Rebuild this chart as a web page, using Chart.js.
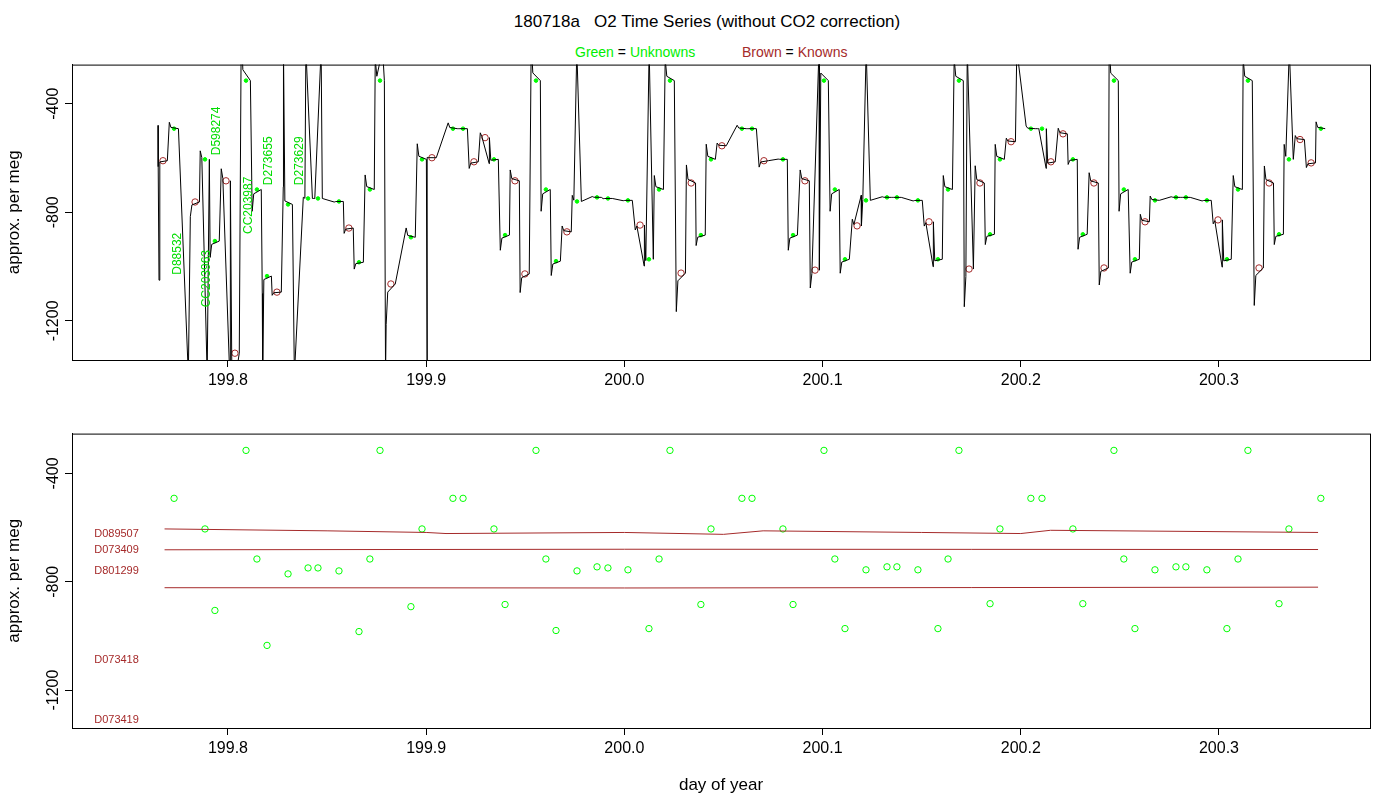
<!DOCTYPE html>
<html><head><meta charset="utf-8">
<script src="https://cdn.jsdelivr.net/npm/chart.js@4"></script>
<style>
body{margin:0;width:1400px;height:800px;background:#fff;font-family:"Liberation Sans",Arial,sans-serif;position:relative;overflow:hidden}
.box{position:absolute;left:0;width:1400px}
#t{position:absolute;top:12px;left:0;width:1414px;text-align:center;font-size:17px}
.lg{position:absolute;top:44px;font-size:14px}
</style></head><body>
<div id="t">180718a &nbsp; O2 Time Series (without CO2 correction)</div>
<div class="lg" style="left:575px"><span style="color:#00ee00">Green</span> = <span style="color:#00ee00">Unknowns</span></div>
<div class="lg" style="left:742px"><span style="color:#a52a2a">Brown</span> = <span style="color:#a52a2a">Knowns</span></div>
<div class="box" style="top:53px;height:347px"><canvas id="c1"></canvas></div>
<div class="box" style="top:422px;height:378px"><canvas id="c2"></canvas></div>
<script>
const xTicks=[199.8,199.9,200.0,200.1,200.2,200.3];
const yTicks=[-400,-800,-1200];
const unkDay=[199.7728,199.7884,199.7934,199.8091,199.8146,199.8197,199.8303,199.8404,199.8454,199.8560,199.8661,199.8716,199.8767,199.8923,199.8979,199.9135,199.9186,199.9342,199.9398,199.9554,199.9604,199.9655,199.9761,199.9862,199.9917,200.0018,200.0124,200.0175,200.0230,200.0386,200.0437,200.0593,200.0644,200.0800,200.0851,200.1007,200.1062,200.1113,200.1219,200.1325,200.1375,200.1481,200.1582,200.1633,200.1688,200.1845,200.1895,200.2051,200.2107,200.2263,200.2313,200.2470,200.2520,200.2576,200.2677,200.2783,200.2833,200.2939,200.3040,200.3096,200.3146,200.3303,200.3353,200.3514];
const unkVal=[-492,-605,-906,-315,-716,-1035,-771,-749,-749,-760,-984,-716,-315,-892,-605,-492,-492,-605,-884,-315,-716,-980,-760,-745,-749,-756,-973,-716,-315,-884,-605,-492,-492,-605,-884,-315,-716,-973,-756,-745,-745,-756,-973,-716,-315,-881,-605,-492,-492,-605,-881,-315,-716,-973,-756,-745,-745,-756,-973,-716,-315,-881,-605,-492];
const knDay=[199.7672,199.7834,199.7990,199.8035,199.8247,199.8610,199.8822,199.9029,199.9241,199.9297,199.9448,199.9498,199.9710,200.0079,200.0286,200.0337,200.0492,200.0704,200.0911,200.0962,200.1174,200.1537,200.1739,200.1794,200.1951,200.2152,200.2213,200.2369,200.2420,200.2627,200.2995,200.3202,200.3253,200.3409,200.3465];
const knVal=[-610,-762,-684,-1319,-1094,-858,-1064,-599,-614,-525,-684,-1027,-872,-847,-1024,-692,-555,-610,-684,-1013,-850,-835,-1009,-692,-540,-614,-511,-692,-1005,-835,-828,-1005,-692,-532,-618];
const spikeDay=[199.7647,199.7652,199.7800,199.7895,199.8040,199.8175,199.8280,199.8335,199.8393,199.8470,199.8780,199.8795,199.9005,199.9760,200.0125,200.1220,200.1730,200.1980,200.3355];
const spikeVal=[-480,-1050,-1400,-1400,-1400,-1400,-200,-1400,-200,-200,-200,-1400,-1400,-200,-200,-200,-200,-200,-200];
const refNames=["D089507","D073409","D801299","D073418","D073419"];
const refLabelVal=[-624,-683,-760,-1090,-1310];
const ref1Day=[199.768,199.85,199.9,199.91,200.0,200.05,200.07,200.15,200.2,200.215,200.35];
const ref1Val=[-605,-612,-618,-622,-618,-625,-612,-618,-622,-610,-618];
const ref2Day=[199.768,200.0,200.35]; const ref2Val=[-682,-680,-681];
const ref3Day=[199.768,200.0,200.35]; const ref3Val=[-822,-823,-820];
const gLabels=["D88532","CC203963","D598274","CC203987","D16","D273655","D80125","D273629","D743"];
const gLabDay=[199.7745,199.7895,199.7945,199.8105,199.8155,199.8205,199.8305,199.8360,199.8405];
const gLabVal=[-1030,-1150,-590,-880,-250,-700,-250,-700,-250];

let ev=[];
unkDay.forEach((d,i)=>ev.push({d,v:unkVal[i],p:1}));
knDay.forEach((d,i)=>ev.push({d,v:knVal[i],p:1}));
spikeDay.forEach((d,i)=>ev.push({d,v:spikeVal[i],p:0}));
ev.sort((a,b)=>a.d-b.d);
let line=[],prev=-500;
ev.forEach(e=>{
  if(e.p){const o=e.v+0.2*(e.v-prev);line.push({x:e.d-0.0024,y:o});line.push({x:e.d-0.0016,y:e.v+0.04*(e.v-prev)});line.push({x:e.d+0.0022,y:e.v});prev=e.v;}
  else line.push({x:e.d,y:e.v});
});
line.sort((a,b)=>a.x-b.x);

const GREEN='#00ff00',BROWN='#a52a2a';
const font={family:'"Liberation Sans",Arial,sans-serif',size:16};
function xScale(title){return{type:'linear',min:199.7213,max:200.3762,
  afterBuildTicks:s=>{s.ticks=xTicks.map(v=>({value:v}))},
  afterFit:s=>{s.height=title?72:40},
  grid:{drawOnChartArea:false,tickLength:7,color:'#000'},border:{color:'#000'},
  ticks:{color:'#000',font,callback:v=>v.toFixed(1),maxRotation:0,padding:4},
  title:{display:!!title,text:title,color:'#000',font:{...font,size:17},padding:{top:4}}};}
function yScale(min,max){return{min,max,
  afterBuildTicks:s=>{s.ticks=yTicks.map(v=>({value:v}))},
  afterFit:s=>{s.width=72},
  grid:{drawOnChartArea:false,tickLength:7,color:'#000'},border:{color:'#000'},
  ticks:{display:true,color:'rgba(0,0,0,0)',font,padding:2},
  title:{display:true,text:'approx. per meg',color:'#000',font:{...font,size:17},padding:{bottom:14}}};}
const deco={id:'deco',afterDraw(c){
  const a=c.chartArea,x=c.ctx,ys=c.scales.y,xs=c.scales.x;
  x.save();x.strokeStyle='#000';x.lineWidth=1;x.strokeRect(a.left+.5,a.top+.5,a.right-a.left,a.bottom-a.top);
  x.fillStyle='#000';x.font='16px "Liberation Sans",Arial';x.textAlign='center';x.textBaseline='bottom';
  yTicks.forEach(v=>{x.save();x.translate(a.left-10,ys.getPixelForValue(v));x.rotate(-Math.PI/2);x.fillText(String(v),0,0);x.restore();});
  x.beginPath();x.rect(a.left,a.top,a.right-a.left,a.bottom-a.top);x.clip();
  const o=c.options.plugins.deco;
  if(o.glab){x.font='12px "Liberation Sans",Arial';x.fillStyle='#00dd00';x.textAlign='left';x.textBaseline='middle';
    gLabels.forEach((t,i)=>{x.save();x.translate(xs.getPixelForValue(gLabDay[i]),ys.getPixelForValue(gLabVal[i]));x.rotate(-Math.PI/2);x.fillText(t,0,0);x.restore();});}
  if(o.rlab){x.font='11px "Liberation Sans",Arial';x.fillStyle=BROWN;x.textAlign='left';x.textBaseline='middle';
    refNames.forEach((t,i)=>x.fillText(t,xs.getPixelForValue(199.7325),ys.getPixelForValue(refLabelVal[i])));}
  x.restore();}};
const pts=(d,v)=>d.map((x,i)=>({x,y:v[i]}));
const common={responsive:true,maintainAspectRatio:false,animation:false,
  plugins:{legend:{display:false},tooltip:{enabled:false}}};
new Chart(document.getElementById('c1'),{type:'scatter',
 data:{datasets:[
  {data:line,showLine:true,borderColor:'#000',borderWidth:1,pointRadius:0},
  {data:pts(unkDay,unkVal),pointRadius:1.8,pointBorderColor:GREEN,pointBackgroundColor:GREEN,pointBorderWidth:1},
  {data:pts(knDay,knVal),pointRadius:3.2,pointBorderColor:BROWN,pointBackgroundColor:'rgba(0,0,0,0)',pointBorderWidth:1}]},
 options:{...common,layout:{padding:{top:5,right:30,left:0,bottom:0}},
  plugins:{...common.plugins,deco:{glab:true}},
  scales:{x:xScale(''),y:yScale(-1344,-256)}},plugins:[deco]});
new Chart(document.getElementById('c2'),{type:'scatter',
 data:{datasets:[
  {data:pts(ref1Day,ref1Val),showLine:true,borderColor:BROWN,borderWidth:1,pointRadius:0},
  {data:pts(ref2Day,ref2Val),showLine:true,borderColor:BROWN,borderWidth:1,pointRadius:0},
  {data:pts(ref3Day,ref3Val),showLine:true,borderColor:BROWN,borderWidth:1,pointRadius:0},
  {data:pts(unkDay,unkVal),pointRadius:3.2,pointBorderColor:GREEN,pointBackgroundColor:'rgba(0,0,0,0)',pointBorderWidth:1}]},
 options:{...common,layout:{padding:{top:5,right:30,left:0,bottom:0}},
  plugins:{...common.plugins,deco:{rlab:true}},
  scales:{x:xScale('day of year'),y:yScale(-1340,-253)}},plugins:[deco]});
</script></body></html>
